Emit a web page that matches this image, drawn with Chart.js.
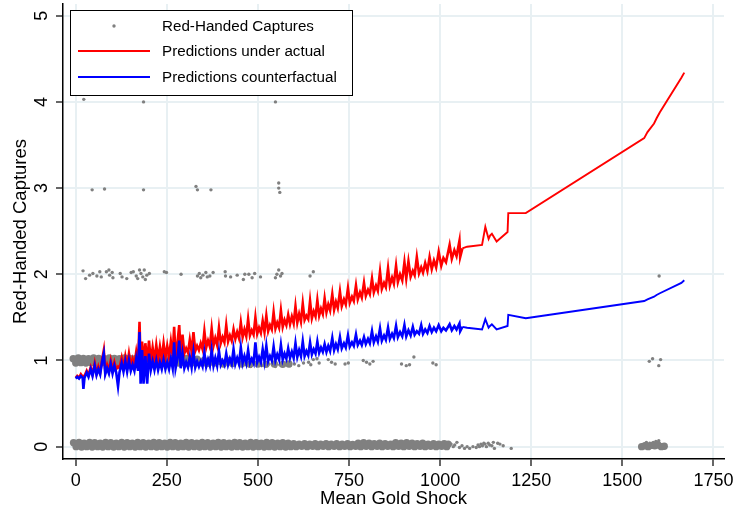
<!DOCTYPE html>
<html>
<head>
<meta charset="utf-8">
<title>Red-Handed Captures and Mean Gold Shock</title>
<script src="https://cdn.jsdelivr.net/npm/chart.js@4.4.1/dist/chart.umd.min.js"></script>
<style>
  html, body { margin: 0; padding: 0; background: #fff; }
  #wrap { width: 735px; height: 514px; position: relative; }
</style>
</head>
<body>
<div id="wrap"><canvas id="chart-gold"></canvas></div>
<script>
// Axis ticks
const xTicks = [0, 250, 500, 750, 1000, 1250, 1500, 1750];
const yTicks = [0, 1, 2, 3, 4, 5];

// Predictions, sorted by mean gold shock
const predX = [
    0, 4, 9, 14, 19, 21, 24, 30, 35, 41,
    46, 52, 57, 62, 67, 72, 77, 81, 86, 91,
    96, 101, 106, 111, 116, 120, 126, 131, 136, 141,
    146, 151, 156, 161, 166, 171, 175, 178, 182, 186,
    191, 196, 201, 206, 211, 216, 221, 226, 231, 236,
    241, 246, 251, 256, 261, 266, 270, 274, 279, 284,
    288, 293, 298, 303, 308, 313, 318, 323, 328, 333,
    338, 343, 348, 353, 358, 363, 368, 373, 378, 383,
    388, 393, 398, 403, 408, 413, 418, 423, 428, 433,
    438, 443, 448, 453, 458, 463, 468, 473, 478, 483,
    488, 493, 498, 503, 508, 513, 518, 523, 528, 533,
    538, 543, 548, 553, 558, 563, 568, 573, 578, 583,
    588, 593, 598, 603, 608, 613, 618, 623, 628, 633,
    638, 643, 648, 653, 658, 663, 668, 673, 678, 683,
    688, 693, 698, 704, 709, 714, 719, 725, 730, 736,
    741, 747, 752, 758, 763, 769, 774, 780, 785, 791,
    796, 802, 807, 813, 818, 824, 829, 835, 840, 846,
    851, 857, 862, 868, 873, 879, 884, 890, 896, 902,
    907, 913, 919, 925, 930, 936, 942, 948, 953, 959,
    965, 971, 977, 983, 989, 996, 1003, 1009, 1016, 1026,
    1032, 1039, 1045, 1053, 1055, 1061, 1074, 1115, 1124, 1133,
    1137, 1142, 1155, 1185, 1187, 1235, 1560, 1569, 1587, 1594,
    1603, 1662, 1670
];
const predActual = [
    .80, .82, .80, .84, .81, .82, .82, .88, .83, .92,
    .84, .97, .85, .93, .86, 1.00, 1.12, .87, .95, .88,
    1.00, .89, .98, .90, .93, .91, 1.03, .92, 1.05, .93,
    1.08, .94, 1.02, .95, 1.10, .96, 1.45, .97, 1.22, .97,
    1.20, .98, 1.23, .99, 1.15, 1.00, 1.18, 1.01, 1.16, 1.02,
    1.20, 1.03, 1.17, 1.04, 1.22, 1.05, 1.39, 1.06, 1.20, 1.41,
    1.07, 1.30, 1.08, 1.14, 1.09, 1.24, 1.10, 1.33, 1.11, 1.17,
    1.12, 1.20, 1.13, 1.34, 1.15, 1.23, 1.16, 1.37, 1.17, 1.26,
    1.18, 1.38, 1.20, 1.27, 1.21, 1.41, 1.22, 1.29, 1.23, 1.36,
    1.25, 1.33, 1.26, 1.44, 1.27, 1.36, 1.28, 1.48, 1.29, 1.35,
    1.30, 1.50, 1.31, 1.38, 1.32, 1.46, 1.33, 1.52, 1.34, 1.41,
    1.36, 1.56, 1.37, 1.44, 1.38, 1.58, 1.39, 1.47, 1.41, 1.53,
    1.42, 1.51, 1.43, 1.63, 1.44, 1.54, 1.45, 1.66, 1.47, 1.52,
    1.48, 1.69, 1.49, 1.57, 1.51, 1.70, 1.52, 1.60, 1.54, 1.72,
    1.56, 1.65, 1.58, 1.77, 1.59, 1.68, 1.61, 1.80, 1.63, 1.71,
    1.65, 1.84, 1.67, 1.74, 1.69, 1.87, 1.71, 1.79, 1.73, 1.90,
    1.75, 1.82, 1.77, 1.95, 1.79, 1.87, 1.81, 2.03, 1.83, 1.90,
    1.85, 2.07, 1.87, 1.96, 1.89, 2.10, 1.91, 2.00, 1.93, 2.14,
    1.95, 2.15, 1.97, 2.04, 1.99, 2.20, 2.01, 2.08, 2.02, 2.13,
    2.04, 2.20, 2.06, 2.16, 2.08, 2.26, 2.10, 2.19, 2.14, 2.34,
    2.18, 2.28, 2.21, 2.39, 2.20, 2.30, 2.32, 2.34, 2.55, 2.41,
    2.45, 2.47, 2.38, 2.49, 2.71, 2.71, 3.58, 3.65, 3.75, 3.81,
    3.88, 4.28, 4.34
];
const predCounter = [
    .79, .81, .79, .82, .80, .67, .80, .86, .81, .90,
    .82, .94, .83, .90, .84, .98, 1.08, .84, .91, .85,
    .96, .85, .94, .86, .70, .86, .97, .87, .99, .87,
    1.00, .88, .95, .88, 1.02, .88, 1.33, .73, 1.12, .73,
    1.05, .73, 1.08, .89, .99, .89, 1.00, .89, .98, .90,
    1.01, .90, .98, .90, 1.02, .91, 1.21, .91, 1.02, 1.23,
    .91, 1.08, .91, .98, .92, 1.04, .92, 1.10, .92, .99,
    .93, .99, .93, 1.09, .93, 1.01, .94, 1.12, .94, 1.03,
    .94, 1.11, .95, 1.00, .95, 1.08, .95, 1.02, .96, 1.13,
    .96, 1.03, .96, 1.15, .97, 1.05, .97, 1.12, .97, 1.02,
    .97, 1.21, .98, 1.04, .98, 1.13, .99, 1.17, .99, 1.05,
    1.00, 1.16, 1.00, 1.07, 1.01, 1.18, 1.01, 1.08, 1.02, 1.14,
    1.03, 1.10, 1.03, 1.20, 1.04, 1.12, 1.05, 1.22, 1.05, 1.11,
    1.06, 1.21, 1.07, 1.13, 1.08, 1.22, 1.09, 1.15, 1.10, 1.19,
    1.10, 1.17, 1.11, 1.26, 1.12, 1.19, 1.13, 1.27, 1.14, 1.20,
    1.15, 1.29, 1.16, 1.21, 1.17, 1.30, 1.18, 1.23, 1.18, 1.27,
    1.19, 1.25, 1.20, 1.34, 1.21, 1.28, 1.22, 1.37, 1.23, 1.29,
    1.24, 1.38, 1.25, 1.31, 1.26, 1.40, 1.27, 1.33, 1.28, 1.41,
    1.28, 1.35, 1.29, 1.39, 1.30, 1.34, 1.31, 1.41, 1.31, 1.36,
    1.32, 1.40, 1.33, 1.38, 1.34, 1.41, 1.34, 1.38, 1.35, 1.42,
    1.35, 1.40, 1.36, 1.43, 1.34, 1.39, 1.38, 1.36, 1.48, 1.38,
    1.40, 1.42, 1.36, 1.40, 1.53, 1.49, 1.69, 1.71, 1.74, 1.76,
    1.78, 1.90, 1.93
];

// Red-handed captures, single observations [shock, captures]
const capSingle = [
    [22, 4.03], [186, 4.00], [548, 4.00],
    [45, 2.98], [79, 2.99], [186, 2.98], [330, 3.02], [334, 2.98], [371, 2.98],
    [557, 3.06], [557, 3.00], [560, 2.95],
    [20, 2.04], [27, 1.95], [38, 1.99], [47, 2.01], [58, 1.98], [66, 2.03], [70, 1.97],
    [84, 2.03], [91, 2.05], [93, 1.99], [100, 2.02], [102, 1.96], [122, 2.01], [127, 1.97],
    [140, 1.95], [152, 2.02], [158, 2.03], [166, 1.98], [170, 1.95], [175, 2.05], [179, 2.01],
    [184, 1.97], [188, 2.05], [191, 1.94], [195, 1.99], [202, 2.01], [243, 2.03], [249, 2.02],
    [289, 2.00], [334, 1.98], [339, 2.01], [343, 1.96], [349, 1.99], [357, 2.02], [361, 1.97],
    [368, 1.98], [377, 2.02], [410, 2.03], [411, 1.98], [425, 1.97], [443, 1.99], [460, 1.94],
    [464, 2.00], [475, 2.00], [484, 1.96], [491, 2.01], [507, 1.97], [548, 1.96], [552, 2.00],
    [557, 2.05], [562, 1.98], [566, 2.01], [643, 1.98], [652, 2.03], [1601, 1.98],
    [468, .95], [480, .93], [495, .97], [510, .94], [530, .96], [548, .93], [560, .95],
    [575, .97], [588, .94], [600, .96], [612, .94], [625, .97], [639, .98], [645, .95],
    [652, 1.01], [662, 1.02], [668, .97], [693, 1.01], [702, .98], [712, .96], [739, .96],
    [748, .97], [789, 1.00], [798, .98], [807, .96], [816, .99], [894, .96], [907, .94],
    [916, .95], [928, 1.04], [980, .97], [989, .95], [1574, .99], [1583, 1.02], [1605, 1.01],
    [1600, .94],
    [1030, .03], [1036, .00], [1040, .02], [1046, .05], [1053, -.01], [1060, .01], [1067, -.02],
    [1074, .00], [1081, -.02], [1090, .00], [1099, -.01], [1104, .02], [1108, .00], [1112, .03],
    [1116, .01], [1120, .04], [1123, .03], [1127, .00], [1132, .04], [1136, .02], [1142, .01],
    [1146, .05], [1149, -.02], [1158, .04], [1164, .03], [1173, .01], [1195, -.02],
    [1566, .05], [1575, .04], [1585, .05], [1592, .06], [1596, .05], [1600, .07]
];

// Red-handed captures, overplotted clusters (many observations on top of each other)
const capDense = [
    [-6, .045], [9, .05], [23, .04], [38, .05], [52, .045], [67, .04], [82, .05], [96, .045],
    [111, .04], [126, .05], [141, .045], [155, .04], [170, .05], [185, .045], [200, .04],
    [214, .05], [229, .045], [244, .04], [259, .05], [273, .045], [288, .04], [303, .05],
    [318, .045], [332, .04], [347, .05], [362, .045], [377, .04], [391, .05], [406, .045],
    [421, .04], [436, .05], [450, .045], [465, .04], [480, .05], [495, .045], [509, .04],
    [524, .05], [539, .045], [554, .04], [568, .045], [583, .04], [598, .035], [613, .03],
    [628, .035], [642, .03], [657, .035], [672, .03], [687, .035], [701, .03], [716, .035],
    [731, .03], [746, .035], [760, .025], [775, .04], [790, .045], [805, .04], [819, .035],
    [834, .04], [849, .035], [864, .03], [878, .045], [893, .04], [908, .045], [923, .04],
    [937, .035], [952, .04], [967, .03], [982, .035], [996, .03], [1011, .035], [1022, .03],
    [1, .00], [16, -.005], [30, .00], [45, -.005], [60, .00], [74, -.005], [89, .00],
    [104, -.005], [118, .00], [133, -.005], [148, .00], [163, -.005], [177, .00], [192, -.005],
    [207, .00], [222, -.005], [236, .00], [251, -.005], [266, .00], [281, -.005], [295, .00],
    [310, -.005], [325, .00], [340, -.005], [354, .00], [369, -.005], [384, .00], [399, -.005],
    [413, .00], [428, -.005], [443, .00], [458, -.005], [472, .00], [487, -.005], [502, .00],
    [517, -.005], [531, .00], [546, -.005], [561, .00], [576, -.005], [590, .00], [605, .00],
    [620, .005], [635, .00], [650, .005], [664, .00], [679, .005], [694, .00], [709, .005],
    [724, .00], [738, .005], [753, .00], [768, .005], [782, .00], [797, .005], [812, .00],
    [827, .005], [841, .00], [856, .005], [871, .00], [886, .005], [900, .00], [915, .005],
    [930, .00], [945, .005], [959, .00], [974, .005], [989, .00], [1004, .005], [1018, .00],
    [1553, .00], [1562, .01], [1571, .00], [1580, .015], [1589, .01], [1598, .02], [1607, .00],
    [1615, .005],
    [-7, 1.02], [7, 1.03], [21, 1.025], [35, 1.02], [49, 1.03], [63, 1.025], [78, 1.02],
    [92, 1.03], [106, 1.025], [120, 1.02], [134, 1.03], [148, 1.025], [163, 1.02], [177, 1.03],
    [191, 1.025], [205, 1.02], [219, 1.03], [233, 1.02], [248, 1.025], [262, 1.02], [276, 1.03],
    [290, 1.02], [305, 1.025], [319, 1.02], [333, 1.015], [352, 1.00], [371, 1.01], [395, .99],
    [420, 1.00],
    [0, .97], [14, .975], [28, .97], [42, .975], [56, .97], [70, .975], [85, .97], [99, .975],
    [113, .97], [127, .975], [141, .97], [156, .975], [170, .97], [184, .975], [198, .97],
    [212, .975], [226, .97], [241, .975], [255, .97], [269, .975], [283, .97], [298, .975],
    [312, .97], [326, .975], [340, .97], [360, .965], [380, .97], [405, .96], [430, .965],
    [455, .96], [478, .955], [500, .96], [522, .955], [545, .96], [568, .955], [585, .96]
];

const FONT = '"Liberation Sans", Arial, Helvetica, sans-serif';
const GRAY = '#808080';

// Stata style tick labels, axis titles and legend box
const stataText = {
    id: 'stataText',
    afterDraw(chart) {
        const ctx = chart.ctx;
        const xs = chart.scales.x;
        const ys = chart.scales.y;
        const area = chart.chartArea;
        ctx.save();
        ctx.fillStyle = '#000';
        ctx.textAlign = 'center';
        ctx.textBaseline = 'middle';
        ctx.font = '18px ' + FONT;
        xTicks.forEach(v => ctx.fillText(String(v), xs.getPixelForValue(v), 481));
        yTicks.forEach(v => {
            ctx.save();
            ctx.translate(42, ys.getPixelForValue(v));
            ctx.rotate(-Math.PI / 2);
            ctx.fillText(String(v), 0, 0);
            ctx.restore();
        });
        ctx.font = '18.5px ' + FONT;
        ctx.fillText('Mean Gold Shock', (area.left + area.right) / 2, 499);
        ctx.save();
        ctx.translate(21, (area.top + area.bottom) / 2);
        ctx.rotate(-Math.PI / 2);
        ctx.fillText('Red-Handed Captures', 0, 0);
        ctx.restore();

        // legend
        const ds = chart.data.datasets;
        ctx.fillStyle = '#fff';
        ctx.fillRect(70, 10, 282, 85);
        ctx.strokeStyle = '#000';
        ctx.lineWidth = 1;
        ctx.strokeRect(70.5, 10.5, 282, 85);
        const rows = [
            { ds: ds[2], y: 26 },
            { ds: ds[1], y: 51 },
            { ds: ds[0], y: 77 }
        ];
        ctx.font = '15.2px ' + FONT;
        ctx.textAlign = 'left';
        rows.forEach(r => {
            if (r.ds.showLine) {
                ctx.strokeStyle = r.ds.borderColor;
                ctx.lineWidth = 1.8;
                ctx.beginPath();
                ctx.moveTo(78, r.y);
                ctx.lineTo(150, r.y);
                ctx.stroke();
            } else {
                ctx.fillStyle = r.ds.pointBackgroundColor;
                ctx.beginPath();
                ctx.arc(114, r.y, r.ds.pointRadius, 0, Math.PI * 2);
                ctx.fill();
            }
            ctx.fillStyle = '#000';
            ctx.fillText(r.ds.label, 162, r.y + 1);
        });
        ctx.restore();
    }
};

const toPts = ys => predX.map((x, i) => ({ x: x, y: ys[i] }));
const pairPts = list => list.map(p => ({ x: p[0], y: p[1] }));
// the dense, overplotted part of the predictions reads as a thicker band
const bandWidth = c => (c.p1.parsed.x <= 1061 ? 2.6 : 1.9);

new Chart(document.getElementById('chart-gold').getContext('2d'), {
    type: 'scatter',
    data: {
        datasets: [{
            label: 'Predictions counterfactual',
            data: toPts(predCounter),
            showLine: true,
            borderColor: '#0000ff',
            borderWidth: 1.9,
            segment: { borderWidth: bandWidth },
            pointRadius: 0,
            tension: 0,
            order: 1
        }, {
            label: 'Predictions under actual',
            data: toPts(predActual),
            showLine: true,
            borderColor: '#ff0000',
            borderWidth: 1.9,
            segment: { borderWidth: bandWidth },
            pointRadius: 0,
            tension: 0,
            order: 2
        }, {
            label: 'Red-Handed Captures',
            data: pairPts(capSingle),
            showLine: false,
            pointRadius: 1.7,
            pointBorderWidth: 0,
            pointBackgroundColor: GRAY,
            order: 3
        }, {
            label: 'Red-Handed Captures (overplotted)',
            data: pairPts(capDense),
            showLine: false,
            pointRadius: 3.7,
            pointBorderWidth: 0,
            pointBackgroundColor: GRAY,
            order: 4
        }]
    },
    options: {
        responsive: true,
        maintainAspectRatio: false,
        animation: false,
        layout: { padding: { left: 0, top: 4, right: 11, bottom: 0 } },
        plugins: {
            legend: { display: false },
            tooltip: { enabled: false }
        },
        scales: {
            x: {
                type: 'linear',
                min: -35,
                max: 1779,
                afterBuildTicks: s => { s.ticks = xTicks.map(v => ({ value: v })); },
                afterFit: s => { s.height = 55; },
                ticks: { display: false },
                border: { display: true, color: '#000', width: 1.5 },
                grid: {
                    color: '#e8f0f3',
                    lineWidth: 2,
                    drawTicks: true,
                    tickLength: 7,
                    tickColor: '#000',
                    tickWidth: 1.2
                }
            },
            y: {
                type: 'linear',
                min: -0.143,
                max: 5.136,
                afterBuildTicks: s => { s.ticks = yTicks.map(v => ({ value: v })); },
                afterFit: s => { s.width = 63; },
                ticks: { display: false },
                border: { display: true, color: '#000', width: 1.5 },
                grid: {
                    color: '#e8f0f3',
                    lineWidth: 2,
                    drawTicks: true,
                    tickLength: 7,
                    tickColor: '#000',
                    tickWidth: 1.2
                }
            }
        }
    },
    plugins: [stataText]
});
</script>
</body>
</html>
